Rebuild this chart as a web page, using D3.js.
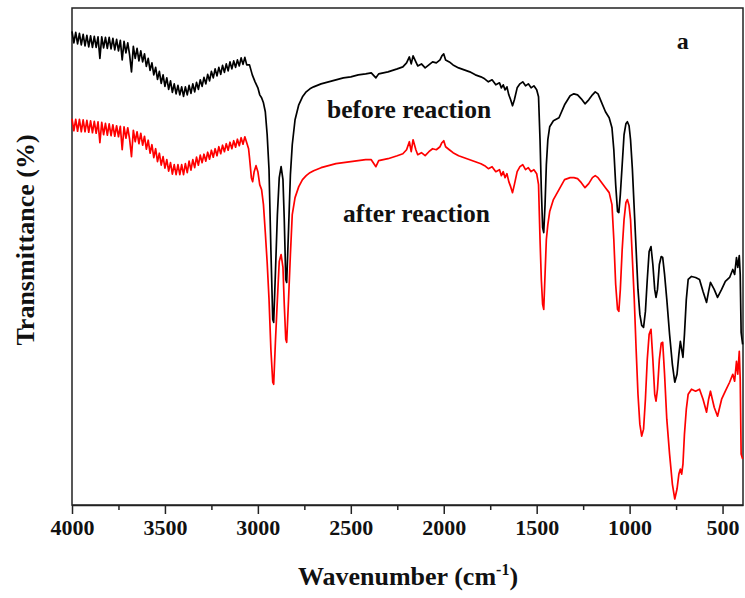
<!DOCTYPE html>
<html>

<head>
  <title>FTIR spectra</title>
  <meta charset="utf-8">
  <script src="https://d3js.org/d3.v7.min.js"></script>
  <style type="text/css">
    body {
      margin: 0;
      background: #fff;
    }

    text {
      font-family: "Liberation Serif", "Times New Roman", serif;
      font-weight: bold;
      fill: #111;
    }

    .axis path,
    .axis line {
      stroke: #222;
      stroke-width: 1.5;
    }
  </style>
</head>

<body>

  <svg id="chart"></svg>

  <script>
    // wavenumbers (cm-1) and transmittance values
    // noisy part 4000-3060, sampled every 10 cm-1 (same for both spectra)
    var noisyWn = [4000, 3990, 3980, 3970, 3960, 3950, 3940, 3930, 3920, 3910, 3900, 3890, 3880, 3870, 3860, 3850, 3840, 3830, 3820, 3810,
      3800, 3790, 3780, 3770, 3760, 3750, 3740, 3730, 3720, 3710, 3700, 3690, 3680, 3670, 3660, 3650, 3640, 3630, 3620, 3610,
      3600, 3590, 3580, 3570, 3560, 3550, 3540, 3530, 3520, 3510, 3500, 3490, 3480, 3470, 3460, 3450, 3440, 3430, 3420, 3410,
      3400, 3390, 3380, 3370, 3360, 3350, 3340, 3330, 3320, 3310, 3300, 3290, 3280, 3270, 3260, 3250, 3240, 3230, 3220, 3210,
      3200, 3190, 3180, 3170, 3160, 3150, 3140, 3130, 3120, 3110, 3100, 3090, 3080, 3070, 3060];

    // common part 2780-392
    var restWn = [2780, 2760, 2740, 2720, 2700, 2660, 2620, 2580, 2540, 2500, 2460, 2420, 2390, 2365, 2350, 2300, 2250, 2220, 2200, 2185,
      2175, 2165, 2150, 2140, 2120, 2100, 2080, 2060, 2040, 2020, 2010, 2000, 1990, 1970, 1950, 1920, 1890, 1860, 1830, 1800,
      1780, 1760, 1740, 1720, 1700, 1690, 1680, 1670, 1660, 1650, 1640, 1630, 1620, 1605, 1590, 1575, 1560, 1545, 1530, 1515,
      1500, 1490, 1482, 1475, 1468, 1462, 1455, 1448, 1440, 1430, 1410, 1380, 1350, 1320, 1300, 1280, 1260, 1240, 1220, 1200,
      1185, 1170, 1150, 1130, 1110, 1095, 1085, 1075, 1065, 1058, 1050, 1040, 1030, 1020, 1012, 1003, 995, 985, 975, 965,
      955, 945, 935, 925, 915, 905, 895, 885, 875, 865, 858, 850, 840, 830, 822, 812, 800, 785, 770, 757,
      745, 735, 727, 720, 713, 705, 695, 685, 667, 645, 624, 605, 586, 575, 565, 545, 527, 505, 485, 462,
      445, 435, 425, 418, 410, 405, 400, 392];

    // CH stretch region, sampled a little differently for each spectrum
    var beforeMidWn = [3045, 3030, 3015, 3000, 2990, 2980, 2970, 2960, 2950, 2940, 2930, 2920, 2915, 2905, 2895, 2885, 2875, 2865, 2858, 2850,
      2845, 2835, 2825, 2815, 2800];
    var afterMidWn = [3050, 3045, 3035, 3028, 3020, 3010, 3000, 2990, 2980, 2970, 2960, 2950, 2940, 2930, 2920, 2915, 2905, 2895, 2885, 2875,
      2865, 2858, 2850, 2845, 2835, 2825, 2815, 2800];

    // before reaction (black)
    var beforeNoisyT = [94.9, 92.6, 94.7, 92.4, 94.5, 92.2, 94.3, 92.0, 94.1, 91.8, 94.0, 91.7, 93.9, 91.7, 93.8, 89.5, 93.8, 91.6, 93.7, 91.5,
      93.7, 91.4, 93.5, 91.2, 93.3, 91.0, 93.1, 89.2, 92.9, 90.6, 92.6, 90.2, 86.8, 91.9, 89.5, 91.5, 89.0, 91.0, 88.8, 90.4,
      87.9, 89.5, 87.1, 88.6, 86.2, 87.7, 85.3, 86.9, 84.5, 86.2, 83.9, 85.6, 83.3, 85.0, 82.7, 84.4, 82.4, 84.1, 82.2, 83.8,
      81.9, 83.8, 82.2, 84.1, 82.5, 84.4, 82.8, 84.7, 83.3, 85.2, 83.9, 85.7, 84.4, 86.3, 85.0, 86.9, 85.6, 87.4, 86.0, 87.7,
      86.3, 88.1, 86.7, 88.4, 87.0, 88.8, 87.4, 89.0, 87.7, 89.2, 88.0, 89.6, 88.3, 89.7, 88.2];
    var beforeMidT = [88.2, 86.2, 84.8, 83.6, 82.2, 81.6, 80.6, 78.8, 74.2, 67.2, 51.2, 37.2, 36.6, 47.2, 58.2, 65.6, 67.8, 65.2, 57.2, 45.2,
      44.6, 55.2, 66.2, 72.2, 77.2];
    var beforeRestT = [80.2, 81.8, 82.8, 83.4, 83.8, 84.4, 84.8, 85.2, 85.6, 85.8, 86.2, 86.4, 86.6, 85.6, 86.4, 86.8, 87.4, 87.8, 88.6, 89.8,
      88.4, 90.0, 88.8, 88.0, 88.4, 87.6, 88.2, 88.8, 88.6, 89.2, 90.0, 90.4, 89.2, 88.8, 88.2, 87.6, 87.2, 86.8, 86.2, 85.8,
      85.4, 84.8, 85.2, 84.2, 84.6, 83.6, 84.2, 83.2, 83.8, 82.2, 81.2, 80.0, 81.2, 83.6, 84.4, 84.8, 84.0, 84.4, 83.6, 84.0,
      83.2, 81.8, 73.2, 63.2, 55.6, 54.6, 60.2, 68.2, 73.2, 75.8, 77.0, 77.6, 80.2, 82.0, 82.4, 82.2, 81.4, 80.4, 81.2, 82.2,
      82.8, 82.4, 80.6, 78.8, 77.6, 75.6, 71.2, 64.2, 58.8, 58.6, 62.2, 68.2, 74.2, 76.4, 76.8, 76.0, 73.2, 67.2, 59.2, 51.2,
      43.2, 38.2, 36.0, 35.6, 38.8, 45.2, 50.8, 51.8, 48.2, 43.2, 41.6, 43.2, 48.2, 49.8, 49.6, 46.2, 41.2, 34.2, 28.2, 24.6,
      26.2, 30.2, 32.8, 31.2, 29.6, 34.2, 41.2, 45.2, 45.8, 45.6, 45.2, 42.8, 40.6, 42.8, 44.6, 43.2, 41.6, 43.2, 44.8, 45.6,
      47.2, 46.2, 49.6, 47.6, 50.0, 46.2, 34.6, 32.2];

    // after reaction (red)
    var afterNoisyT = [77.4, 75.0, 77.3, 74.9, 77.3, 74.8, 77.2, 74.8, 77.1, 74.7, 77.0, 74.6, 76.9, 74.5, 76.8, 72.6, 76.7, 74.2, 76.5, 74.1,
      76.4, 74.0, 76.2, 73.9, 76.0, 73.8, 75.9, 71.2, 75.8, 73.5, 75.6, 73.3, 69.8, 75.1, 72.8, 74.8, 72.4, 74.5, 72.1, 73.9,
      71.3, 73.1, 70.5, 72.2, 69.6, 71.4, 68.8, 70.5, 68.1, 69.8, 67.5, 69.2, 66.9, 68.6, 66.3, 68.2, 66.2, 68.2, 66.2, 68.2,
      66.2, 68.4, 66.6, 68.9, 67.1, 69.2, 67.6, 69.7, 68.1, 70.1, 68.6, 70.3, 68.9, 70.7, 69.3, 71.1, 69.7, 71.4, 70.0, 71.8,
      70.4, 72.1, 70.8, 72.4, 71.1, 72.7, 71.4, 73.0, 71.7, 73.3, 72.0, 73.6, 72.3, 73.8, 72.6];
    var afterMidT = [71.4, 69.6, 65.6, 64.8, 66.8, 68.0, 66.8, 64.2, 63.2, 60.2, 54.6, 48.6, 41.2, 31.2, 24.6, 24.2, 33.2, 41.2, 48.8, 50.2,
      47.6, 40.2, 33.2, 32.6, 41.2, 50.2, 58.2, 61.6];
    var afterRestT = [63.8, 65.2, 66.0, 66.6, 67.0, 67.6, 68.0, 68.4, 68.6, 68.8, 69.0, 69.2, 69.2, 67.8, 69.0, 69.4, 70.0, 70.4, 71.2, 72.8,
      70.8, 73.2, 71.2, 70.2, 70.6, 70.0, 70.8, 71.4, 71.2, 71.8, 72.6, 73.0, 71.8, 71.2, 70.6, 70.0, 69.6, 69.2, 68.8, 68.4,
      68.0, 67.4, 67.8, 66.8, 67.2, 66.0, 66.8, 65.6, 66.4, 64.8, 63.8, 62.6, 64.2, 66.8, 67.8, 68.2, 67.2, 67.6, 66.8, 67.2,
      66.4, 64.2, 53.2, 45.2, 40.2, 39.2, 46.2, 53.2, 56.2, 58.8, 61.2, 63.2, 65.2, 65.6, 65.6, 65.4, 64.6, 63.6, 64.4, 65.6,
      66.0, 65.6, 64.6, 63.6, 62.6, 60.2, 53.2, 44.2, 39.2, 38.8, 43.2, 51.2, 57.2, 60.6, 61.2, 60.0, 57.2, 49.2, 41.2, 31.2,
      22.2, 16.2, 13.8, 15.2, 21.2, 29.2, 34.2, 35.2, 29.2, 22.2, 20.8, 23.2, 29.2, 32.4, 32.6, 26.2, 17.2, 10.2, 4.2, 1.2,
      3.2, 6.2, 7.2, 6.2, 8.2, 14.2, 19.2, 22.2, 23.2, 22.8, 23.2, 21.2, 18.6, 21.2, 22.8, 19.6, 17.8, 21.2, 22.8, 24.6,
      26.2, 24.8, 28.8, 26.2, 30.8, 25.2, 10.2, 9.2];

    var xTicks = [4000, 3500, 3000, 2500, 2000, 1500, 1000, 500];
    var xMinorTicks = [3750, 3250, 2750, 2250, 1750, 1250, 750];

    var margin = { top: 8, right: 2, bottom: 93, left: 72 };
    var width = 745 - margin.left - margin.right,
      height = 598 - margin.top - margin.bottom;

    var svg = d3.select("#chart")
      .attr("width", 745)
      .attr("height", 598);

    var chart = svg.append("g")
      .attr("transform", "translate(" + margin.left + "," + margin.top + ")");

    // x: wavenumber decreasing to the right
    var x = d3.scaleLinear()
      .domain([4000, 390])
      .range([0, width]);

    var y = d3.scaleLinear()
      .domain([0, 99.6])
      .range([height, 0]);

    // minor ticks
    chart.append("g")
      .attr("class", "axis")
      .attr("transform", "translate(0," + height + ")")
      .call(d3.axisBottom(x).tickValues(xMinorTicks).tickSize(5).tickFormat(""))
      .select(".domain").remove();

    // major ticks + labels
    var xAxis = chart.append("g")
      .attr("class", "axis")
      .attr("transform", "translate(0," + height + ")")
      .call(d3.axisBottom(x).tickValues(xTicks).tickSize(9).tickSizeOuter(0)
        .tickPadding(5).tickFormat(d3.format("d")));
    xAxis.selectAll("text")
      .style("font-size", "22px")
      .attr("fill", "#111");

    // frame
    chart.append("rect")
      .attr("width", width)
      .attr("height", height)
      .attr("fill", "none")
      .attr("stroke", "#222")
      .attr("stroke-width", 1.5);

    var line = d3.line()
      .x(function (d) { return x(d[0]); })
      .y(function (d) { return y(d[1]); });

    function pairs(wn, t) {
      return wn.map(function (w, i) { return [w, t[i]]; });
    }

    var before = pairs(noisyWn.concat(beforeMidWn, restWn), beforeNoisyT.concat(beforeMidT, beforeRestT));
    var after = pairs(noisyWn.concat(afterMidWn, restWn), afterNoisyT.concat(afterMidT, afterRestT));

    chart.append("path")
      .datum(after)
      .attr("fill", "none")
      .attr("stroke", "#ff0000")
      .attr("stroke-width", 1.7)
      .attr("stroke-linejoin", "round")
      .attr("d", line);

    chart.append("path")
      .datum(before)
      .attr("fill", "none")
      .attr("stroke", "#000")
      .attr("stroke-width", 1.7)
      .attr("stroke-linejoin", "round")
      .attr("d", line);

    // labels inside the plot
    chart.append("text")
      .attr("x", x(2628))
      .attr("y", y(77.6))
      .style("font-size", "25.5px")
      .text("before reaction");

    chart.append("text")
      .attr("x", x(2542))
      .attr("y", y(56.8))
      .style("font-size", "25.5px")
      .text("after reaction");

    chart.append("text")
      .attr("x", x(747))
      .attr("y", y(91.4))
      .style("font-size", "24px")
      .text("a");

    // axis titles
    var xTitle = svg.append("text")
      .attr("x", 408)
      .attr("y", 585)
      .attr("text-anchor", "middle")
      .style("font-size", "26px");
    xTitle.append("tspan").text("Wavenumber (cm");
    xTitle.append("tspan").attr("dy", -10).style("font-size", "16px").text("-1");
    xTitle.append("tspan").attr("dy", 10).text(")");

    svg.append("text")
      .attr("transform", "translate(34,240) rotate(-90)")
      .attr("text-anchor", "middle")
      .style("font-size", "26px")
      .text("Transmittance (%)");
  </script>
</body>

</html>
